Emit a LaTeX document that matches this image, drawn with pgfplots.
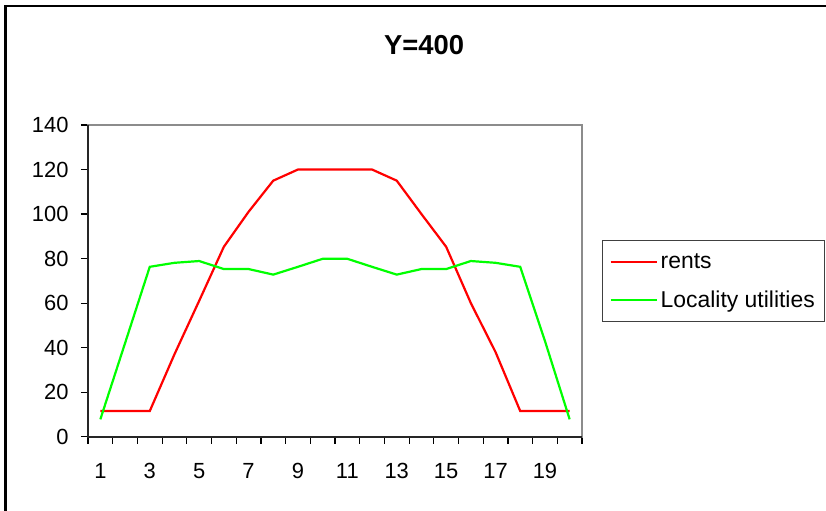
\documentclass[border=0pt]{standalone}
\usepackage{pgfplots}
\pgfplotsset{compat=1.18}
\usepackage{fontspec}
\setmainfont{Liberation Sans}
\definecolor{xlred}{RGB}{255,0,0}
\definecolor{xlgreen}{RGB}{0,255,0}
\begin{document}
\begin{tikzpicture}
\path[use as bounding box] (0bp,0bp) rectangle (826bp,511bp);
\draw[black, line width=2.5bp] (5.5bp,-20bp) -- (5.5bp,505bp) -- (860bp,505bp);
\node[font=\fontsize{27.5}{27.5}\selectfont\bfseries] at (424bp,465.5bp) {Y=400};
\begin{axis}[
  at={(88bp,74.3bp)}, anchor=south west,
  scale only axis, width=494bp, height=311.7bp,
  xmin=0.5, xmax=20.5, ymin=0, ymax=140,
  xtick={1,3,...,19},
  minor xtick={0.5,1.5,...,20.5},
  ytick={0,20,...,140},
  xtick pos=lower, ytick pos=left,
  tick align=outside,
  major x tick style={draw=none},
  minor tick length=7bp, major tick length=7bp,
  every tick/.style={black, line width=1.2bp},
  axis line style={draw=gray!90, line width=1.8bp},
  tick label style={font=\fontsize{22}{22}\selectfont},
  /pgf/number format/assume math mode=true,
  xticklabel style={yshift=-16bp},
  yticklabel style={xshift=-9bp},
  clip=false,
  legend style={at={(axis description cs:1.0405,0.631)}, anchor=north west,
    draw=black!75, line width=1bp, font=\fontsize{23}{23}\selectfont,
    inner xsep=7bp, inner ysep=11bp, row sep=17bp,
    nodes={inner xsep=3bp, inner ysep=2bp}},
  legend cell align=left,
  legend image code/.code={\draw[#1] (0bp,0bp) -- (46bp,0bp);},
]
\addplot[xlred, line width=2.2bp] coordinates {
(1,11.5) (2,11.5) (3,11.5) (4,37) (5,61) (6,85.3) (7,101) (8,115) (9,120) (10,120)
(11,120) (12,120) (13,115) (14,100) (15,85.3) (16,60) (17,38) (18,11.5) (19,11.5) (20,11.5)};
\addlegendentry{rents}
\addplot[xlgreen, line width=2.2bp] coordinates {
(1,7.8) (2,42) (3,76.3) (4,78.1) (5,78.9) (6,75.3) (7,75.3) (8,72.8) (9,76.3) (10,79.9)
(11,79.9) (12,76.3) (13,72.8) (14,75.3) (15,75.3) (16,78.9) (17,78.1) (18,76.3) (19,43) (20,7.8)};
\addlegendentry{Locality utilities}
\draw[black!85, line width=1.8bp] (rel axis cs:0,1) -- (rel axis cs:0,0) -- (rel axis cs:1,0);
\end{axis}
\end{tikzpicture}
\end{document}
